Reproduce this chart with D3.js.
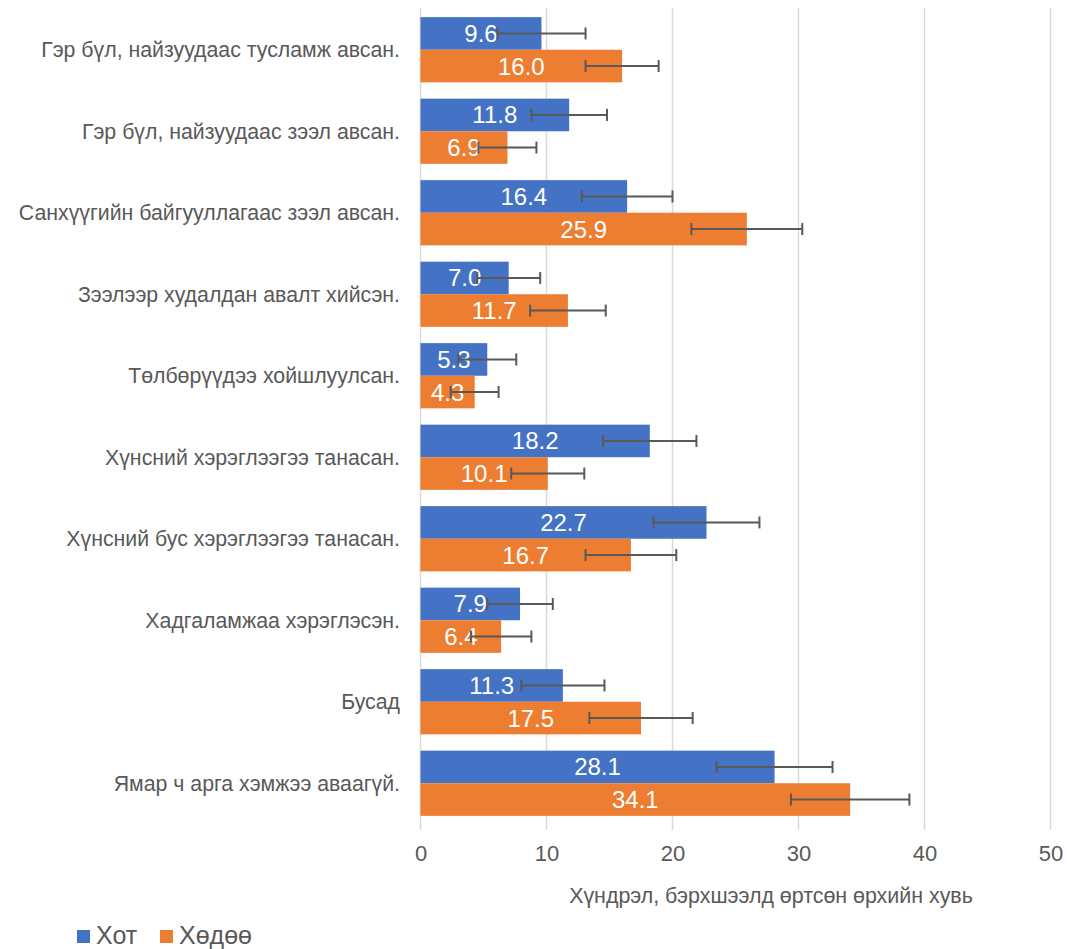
<!DOCTYPE html>
<html>
<head>
<meta charset="utf-8">
<script src="https://cdn.jsdelivr.net/npm/d3@7"></script>
<style>
  body { margin: 0; background: #fff; }
  svg { display: block; font-family: "Liberation Sans", Arial, sans-serif; }
</style>
</head>
<body>
<div id="chart"></div>
<script>
// categories, top to bottom
var categories = [
  "Гэр бүл, найзуудаас тусламж авсан.",
  "Гэр бүл, найзуудаас зээл авсан.",
  "Санхүүгийн байгууллагаас зээл авсан.",
  "Зээлээр худалдан авалт хийсэн.",
  "Төлбөрүүдээ хойшлуулсан.",
  "Хүнсний хэрэглээгээ танасан.",
  "Хүнсний бус хэрэглээгээ танасан.",
  "Хадгаламжаа хэрэглэсэн.",
  "Бусад",
  "Ямар ч арга хэмжээ аваагүй."
];
var seriesNames = ["Хот", "Хөдөө"];
var hotValues   = [9.6, 11.8, 16.4, 7.0, 5.3, 18.2, 22.7, 7.9, 11.3, 28.1];
var khodooValues = [16.0, 6.9, 25.9, 11.7, 4.3, 10.1, 16.7, 6.4, 17.5, 34.1];
// error margins
var hotErrors   = [3.5, 3.0, 3.6, 2.5, 2.3, 3.7, 4.2, 2.6, 3.3, 4.6];
var khodooErrors = [2.9, 2.3, 4.4, 3.0, 1.9, 2.9, 3.6, 2.4, 4.1, 4.7];
var xTicks = [0, 10, 20, 30, 40, 50];
var axisTitle = "Хүндрэл, бэрхшээлд өртсөн өрхийн хувь";

var colors = ["#4472C4", "#ED7D31"];
var textColor = "#595959";

var width = 1068, height = 949;

var svg = d3.select("#chart").append("svg")
  .attr("width", width)
  .attr("height", height);

var x = d3.scaleLinear().domain([0, 50]).range([420.5, 1050.5]);
var y = d3.scaleBand().domain(categories).range([9, 824])
  .paddingInner(0.2).paddingOuter(0.1);
var ySub = d3.scaleBand().domain(seriesNames).range([0, y.bandwidth()]);

var rows = [];
categories.forEach(function(c, i) {
  rows.push({cat: c, series: seriesNames[0], value: hotValues[i], err: hotErrors[i]});
  rows.push({cat: c, series: seriesNames[1], value: khodooValues[i], err: khodooErrors[i]});
});

// gridlines
svg.append("g").selectAll("line")
  .data(xTicks)
  .enter().append("line")
  .attr("x1", function(d) { return x(d); })
  .attr("x2", function(d) { return x(d); })
  .attr("y1", 8)
  .attr("y2", 830)
  .style("stroke", "#d9d9d9")
  .style("stroke-width", 1.5);

// bars
svg.append("g").selectAll("rect")
  .data(rows)
  .enter().append("rect")
  .attr("x", x(0))
  .attr("y", function(d) { return y(d.cat) + ySub(d.series); })
  .attr("width", function(d) { return x(d.value) - x(0); })
  .attr("height", ySub.bandwidth())
  .style("fill", function(d) { return colors[seriesNames.indexOf(d.series)]; });

// data labels
svg.append("g").selectAll("text")
  .data(rows)
  .enter().append("text")
  .attr("x", function(d) { return (x(0) + x(d.value)) / 2; })
  .attr("y", function(d) { return y(d.cat) + ySub(d.series) + ySub.bandwidth() / 2 + 8.5; })
  .attr("text-anchor", "middle")
  .attr("font-size", 24)
  .style("fill", "#fff")
  .text(function(d) { return d.value.toFixed(1); });

// error bars
var eb = svg.append("g")
  .style("stroke", textColor)
  .style("stroke-width", 2);
rows.forEach(function(d) {
  var cy = y(d.cat) + ySub(d.series) + ySub.bandwidth() / 2;
  var x1 = x(d.value - d.err), x2 = x(d.value + d.err);
  eb.append("line").attr("x1", x1).attr("x2", x2).attr("y1", cy).attr("y2", cy);
  eb.append("line").attr("x1", x1).attr("x2", x1).attr("y1", cy - 6).attr("y2", cy + 6);
  eb.append("line").attr("x1", x2).attr("x2", x2).attr("y1", cy - 6).attr("y2", cy + 6);
});

// category labels
svg.append("g").selectAll("text")
  .data(categories)
  .enter().append("text")
  .attr("x", 400)
  .attr("y", function(d) { return y(d) + y.bandwidth() / 2 + 7.5; })
  .attr("text-anchor", "end")
  .attr("font-size", 21.3)
  .style("fill", textColor)
  .text(function(d) { return d; });

// x axis tick labels
var xAxis = d3.axisBottom(x).tickValues(xTicks).tickSize(0).tickPadding(0);
var gx = svg.append("g")
  .attr("transform", "translate(0,845)")
  .call(xAxis);
gx.select(".domain").remove();
gx.selectAll("text")
  .attr("font-size", 22)
  .attr("font-family", "Liberation Sans, Arial, sans-serif")
  .attr("dy", "0.72em")
  .style("fill", textColor);

// axis title
svg.append("text")
  .attr("x", 771)
  .attr("y", 903)
  .attr("text-anchor", "middle")
  .attr("font-size", 21.4)
  .style("fill", textColor)
  .text(axisTitle);

// legend
var legendX = [77, 160];
seriesNames.forEach(function(s, i) {
  svg.append("rect")
    .attr("x", legendX[i])
    .attr("y", 930)
    .attr("width", 13)
    .attr("height", 13)
    .style("fill", colors[i]);
  svg.append("text")
    .attr("x", legendX[i] + 19)
    .attr("y", 944)
    .attr("font-size", 25)
    .style("fill", textColor)
    .text(s);
});
</script>
</body>
</html>
